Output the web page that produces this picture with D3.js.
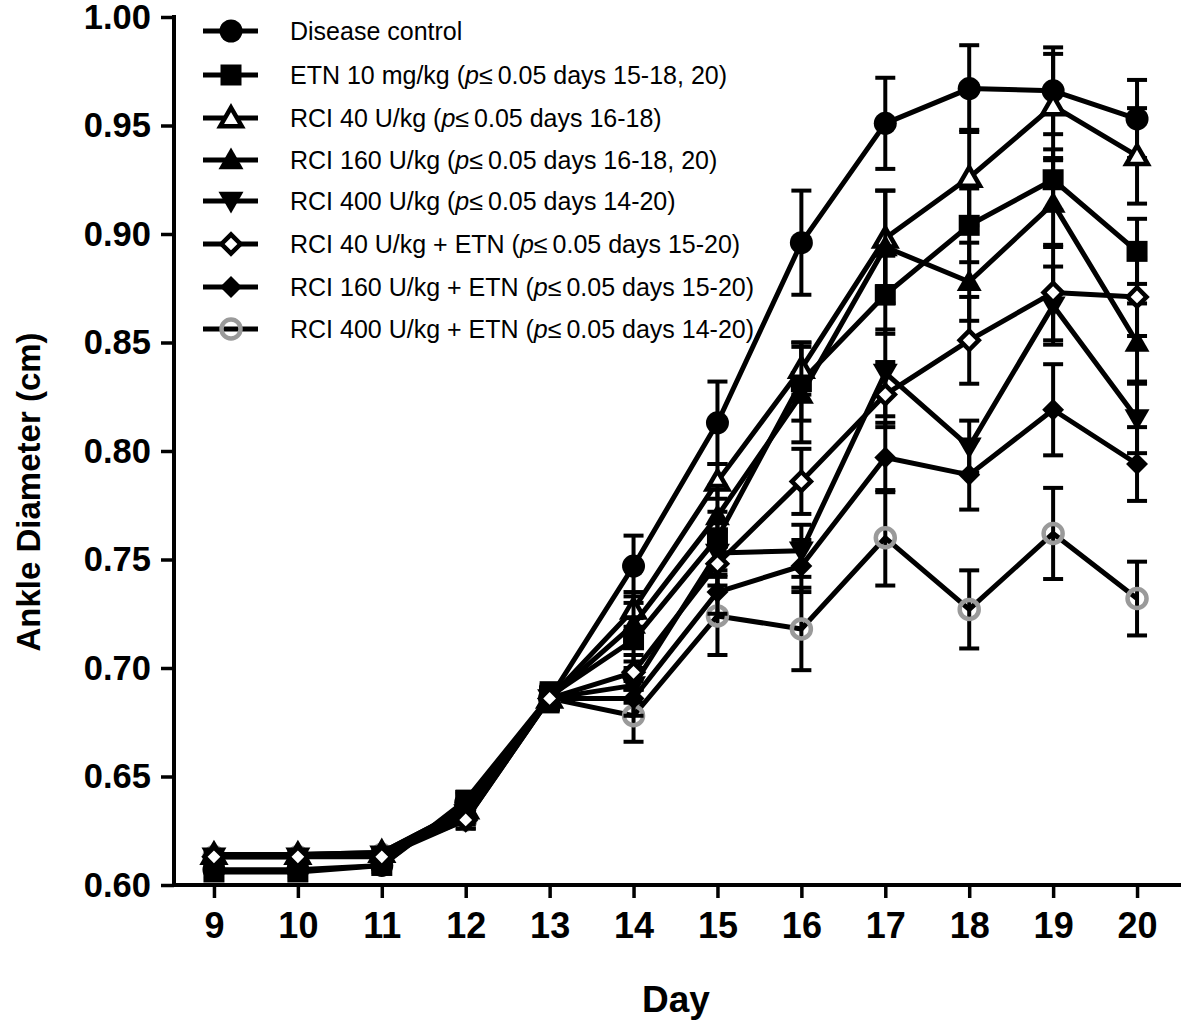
<!DOCTYPE html>
<html><head><meta charset="utf-8">
<script src="https://cdn.jsdelivr.net/npm/d3@7"></script>
<style>
body{margin:0;background:#fff;}
text{font-family:"Liberation Sans",Arial,sans-serif;}
</style></head>
<body><svg id="chart" width="1181" height="1022"></svg>
<script>
const days = [9,10,11,12,13,14,15,16,17,18,19,20];
const yTicks = [0.60,0.65,0.70,0.75,0.80,0.85,0.90,0.95,1.00];

const seriesNames = [
  "Disease control",
  "ETN 10 mg/kg",
  "RCI 40 U/kg",
  "RCI 160 U/kg",
  "RCI 400 U/kg",
  "RCI 40 U/kg + ETN",
  "RCI 160 U/kg + ETN",
  "RCI 400 U/kg + ETN"
];
const seriesNotes = [
  "",
  "0.05 days 15-18, 20)",
  "0.05 days 16-18)",
  "0.05 days 16-18, 20)",
  "0.05 days 14-20)",
  "0.05 days 15-20)",
  "0.05 days 15-20)",
  "0.05 days 14-20)"
];

const control      = [0.607,0.607,0.609,0.638,0.686,0.747,0.813,0.896,0.951,0.967,0.966,0.953];
const controlErr   = [0.003,0.003,0.003,0.004,0.006,0.014,0.019,0.024,0.021,0.020,0.020,0.018];
const etn          = [0.606,0.606,0.609,0.639,0.687,0.713,0.760,0.832,0.872,0.904,0.925,0.892];
const etnErr       = [0.003,0.003,0.003,0.004,0.006,0.010,0.012,0.018,0.018,0.017,0.014,0.015];
const rci40        = [0.614,0.614,0.615,0.635,0.686,0.727,0.786,0.838,0.898,0.926,0.959,0.936];
const rci40Err     = [0.002,0.002,0.002,0.004,0.005,0.008,0.008,0.012,0.022,0.022,0.024,0.022];
const rci160       = [0.614,0.614,0.615,0.635,0.686,0.720,0.770,0.826,0.894,0.878,0.914,0.850];
const rci160Err    = [0.002,0.002,0.002,0.004,0.005,0.010,0.014,0.022,0.026,0.018,0.020,0.018];
const rci400       = [0.613,0.613,0.614,0.633,0.686,0.692,0.753,0.754,0.836,0.802,0.867,0.815];
const rci400Err    = [0.002,0.002,0.002,0.004,0.005,0.008,0.010,0.012,0.020,0.012,0.018,0.016];
const rci40etn     = [0.613,0.613,0.613,0.630,0.686,0.698,0.748,0.786,0.826,0.851,0.873,0.871];
const rci40etnErr  = [0.002,0.002,0.002,0.004,0.005,0.008,0.010,0.015,0.015,0.020,0.022,0.018];
const rci160etn    = [0.614,0.614,0.614,0.632,0.686,0.686,0.735,0.747,0.797,0.789,0.819,0.794];
const rci160etnErr = [0.002,0.002,0.002,0.004,0.005,0.008,0.010,0.012,0.016,0.016,0.021,0.017];
const rci400etn    = [0.613,0.613,0.614,0.630,0.686,0.678,0.724,0.718,0.760,0.727,0.762,0.732];
const rci400etnErr = [0.002,0.002,0.002,0.004,0.005,0.012,0.018,0.019,0.022,0.018,0.021,0.017];

const values = [control, etn, rci40, rci160, rci400, rci40etn, rci160etn, rci400etn];
const errors = [controlErr, etnErr, rci40Err, rci160Err, rci400Err, rci40etnErr, rci160etnErr, rci400etnErr];
const markers = ["circle","square","triUpOpen","triUp","triDown","diamondOpen","diamond","circleGrey"];
const drawOrder = [7,0,1,2,3,4,6,5];

const svg = d3.select("#chart");
const x = d3.scaleLinear().domain([8.5,20.5]).range([172,1179]);
const y = d3.scaleLinear().domain([0.6,1.0]).range([885,17]);

function markerPath(type){
  switch(type){
    case "circle": return d3.symbol(d3.symbolCircle, Math.PI*11.5*11.5)();
    case "circleGrey": return d3.symbol(d3.symbolCircle, Math.PI*9.5*9.5)();
    case "square": return d3.symbol(d3.symbolSquare, 21*21)();
    case "triUp": case "triDown": return d3.symbol(d3.symbolTriangle, 270)();
    case "triUpOpen": return d3.symbol(d3.symbolTriangle, 200)();
    case "diamond": return d3.symbol(d3.symbolSquare, 15.5*15.5)();
    case "diamondOpen": return d3.symbol(d3.symbolSquare, 13.5*13.5)();
  }
}
function drawMarker(g, type, cx, cy){
  const p = g.append("path").attr("d", markerPath(type));
  let tr = `translate(${cx},${cy})`;
  if(type==="triDown") tr += " rotate(180)";
  if(type==="diamond"||type==="diamondOpen") tr += " rotate(45)";
  if(type==="triUp"||type==="triDown"||type==="triUpOpen") tr += " translate(0,2)";
  p.attr("transform", tr);
  if(type==="circleGrey"){
    p.attr("fill","none").attr("stroke","#9a9a9a").attr("stroke-width",4.5);
  } else if(type==="triUpOpen"||type==="diamondOpen"){
    p.attr("fill","#fff").attr("stroke","#000").attr("stroke-width",4.5).attr("stroke-linejoin","miter");
  } else {
    p.attr("fill","#000");
  }
}

// axes
const yAxis = d3.axisLeft(y).tickValues(yTicks).tickFormat(d3.format(".2f")).tickSize(13).tickPadding(10);
const gy = svg.append("g").attr("transform","translate(174,0)").call(yAxis);
gy.select(".domain").attr("stroke","#000").attr("stroke-width",4).attr("d","M0,15V887");
gy.selectAll(".tick line").attr("stroke","#000").attr("stroke-width",3.5);
gy.selectAll(".tick text").attr("font-size",34.5).attr("font-weight","bold").attr("fill","#000");

const xAxis = d3.axisBottom(x).tickValues(days).tickFormat(d3.format("d")).tickSize(13).tickPadding(14);
const gx = svg.append("g").attr("transform","translate(0,885)").call(xAxis);
gx.select(".domain").attr("stroke","#000").attr("stroke-width",4).attr("d","M172,0H1181");
gx.selectAll(".tick line").attr("stroke","#000").attr("stroke-width",3.5);
gx.selectAll(".tick text").attr("font-size",36).attr("font-weight","bold").attr("fill","#000");

svg.append("text").attr("x",676).attr("y",1012).attr("text-anchor","middle")
  .attr("font-size",37).attr("font-weight","bold").text("Day");
svg.append("text").attr("transform","translate(40,492) rotate(-90)").attr("text-anchor","middle")
  .attr("font-size",33).attr("font-weight","bold").text("Ankle Diameter (cm)");

// series
const line = d3.line().x((d,i)=>x(days[i])).y(d=>y(d));
drawOrder.forEach(s=>{
  const vals = values[s];
  const g = svg.append("g");
  const errs = errors[s];
  vals.forEach((v,i)=>{
    const cx = x(days[i]);
    const y1 = y(v+errs[i]), y2 = y(v-errs[i]);
    g.append("line").attr("x1",cx).attr("x2",cx).attr("y1",y1).attr("y2",y2).attr("stroke","#000").attr("stroke-width",4);
    [y1,y2].forEach(yy=>g.append("line").attr("x1",cx-10).attr("x2",cx+10).attr("y1",yy).attr("y2",yy).attr("stroke","#000").attr("stroke-width",4));
  });
  g.append("path").datum(vals).attr("d",line).attr("fill","none").attr("stroke","#000").attr("stroke-width",5).attr("stroke-linejoin","round");
  vals.forEach((v,i)=>drawMarker(g, markers[s], x(days[i]), y(v)));
});

// legend
const legY = [31,75,118,160,201,244,287,329];
const leg = svg.append("g");
seriesNames.forEach((name,i)=>{
  const yy = legY[i];
  leg.append("line").attr("x1",203).attr("x2",258).attr("y1",yy).attr("y2",yy).attr("stroke","#000").attr("stroke-width",5);
  drawMarker(leg, markers[i], 231, yy);
  const t = leg.append("text").attr("x",290).attr("y",yy+9).attr("font-size",25).attr("fill","#000");
  if(seriesNotes[i]===""){
    t.text(name);
  } else {
    t.append("tspan").text(name+" (");
    t.append("tspan").attr("font-style","italic").text("p");
    t.append("tspan").text("\u2264\u2009"+seriesNotes[i]);
  }
});
</script>
</body></html>
